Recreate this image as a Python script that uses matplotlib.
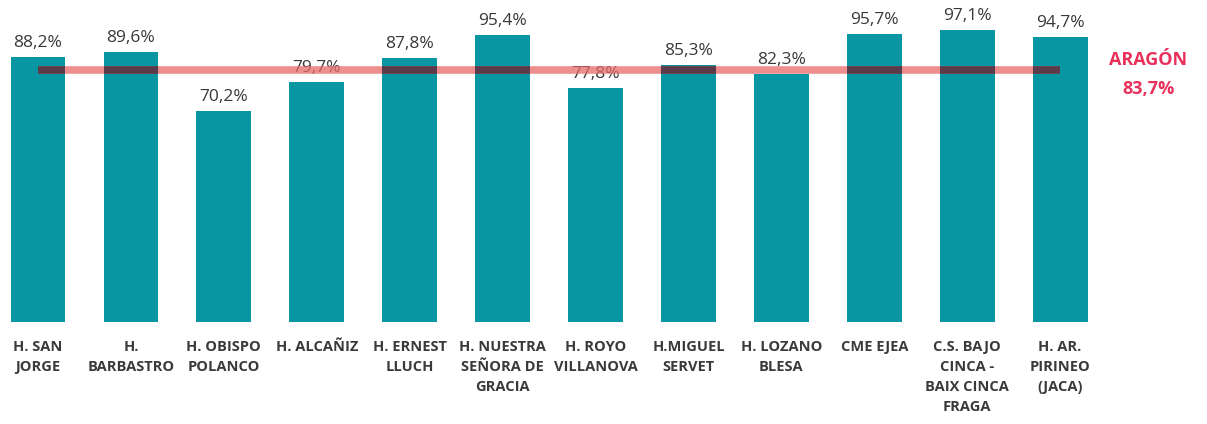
import matplotlib
matplotlib.use("Agg")
import matplotlib.pyplot as plt

# datos
hospitales = [
    "H. SAN\nJORGE", "H.\nBARBASTRO", "H. OBISPO\nPOLANCO", "H. ALCAÑIZ",
    "H. ERNEST\nLLUCH", "H. NUESTRA\nSEÑORA DE\nGRACIA", "H. ROYO\nVILLANOVA",
    "H.MIGUEL\nSERVET", "H. LOZANO\nBLESA", "CME EJEA",
    "C.S. BAJO\nCINCA -\nBAIX CINCA\nFRAGA", "H. AR.\nPIRINEO\n(JACA)",
]
valores = [88.2, 89.6, 70.2, 79.7, 87.8, 95.4, 77.8, 85.3, 82.3, 95.7, 97.1, 94.7]
media_aragon = 83.7

TEAL = "#0897A2"
ROJO = "#E86A6A"
OSCURO = "#5C3A4A"
FONT = "Open Sans"

fig = plt.figure(figsize=(12.07, 4.24), dpi=100)
ax = fig.add_axes([0, 0.2406, 1, 0.7594])

x = list(range(len(valores)))
bars = ax.bar(x, valores, width=0.59, color=TEAL, zorder=2)

for xi, v in zip(x, valores):
    ax.text(xi, v + 2.0, f"{v:.1f}%".replace(".", ","), ha="center", va="bottom",
            fontsize=12.5, color="#383838", family=FONT, zorder=3)

# linea media Aragón (semitransparente sobre las etiquetas)
ax.plot([x[0], x[-1]], [media_aragon] * 2, color=ROJO, lw=5.5, alpha=0.75,
        solid_capstyle="butt", zorder=4)
for b in bars:
    ln, = ax.plot([x[0], x[-1]], [media_aragon] * 2, color=OSCURO, lw=5.5,
                  solid_capstyle="butt", zorder=5)
    ln.set_clip_path(b)

ax.text(11.95, media_aragon - 1.5, "ARAGÓN\n83,7%", ha="center", va="center",
        fontsize=13, fontweight="bold", color="#E8305A", family=FONT,
        linespacing=1.75)

ax.set_xlim(-0.409, 12.58)
ax.set_ylim(0, 107)
ax.set_xticks(x)
ax.set_xticklabels(hospitales, fontsize=10.5, fontweight="bold", color="#3a3a3a",
                   family=FONT, linespacing=1.55, va="top")
ax.tick_params(axis="x", length=0, pad=13)
ax.set_yticks([])
for s in ax.spines.values():
    s.set_visible(False)

fig.savefig("out.png", dpi=100)
